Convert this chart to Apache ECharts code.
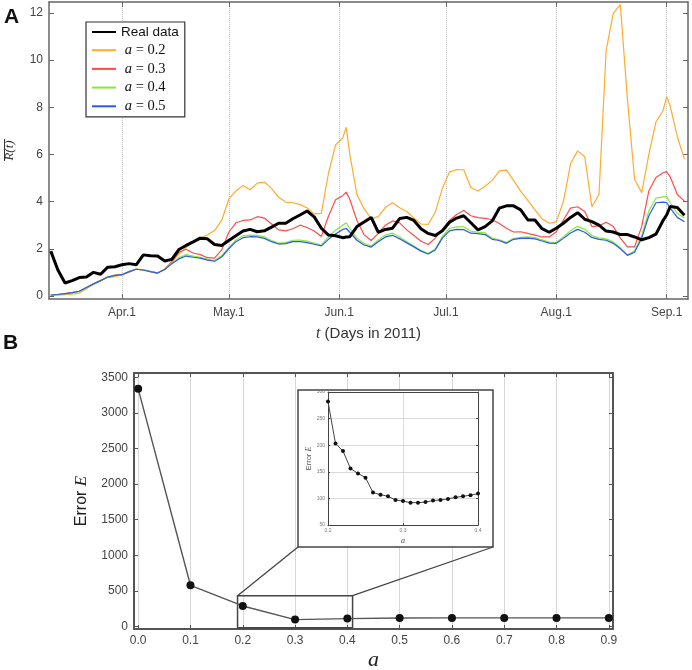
<!DOCTYPE html>
<html>
<head>
<meta charset="utf-8">
<script src="https://cdn.jsdelivr.net/npm/echarts@6/dist/echarts.min.js"></script>
<style>
  html, body { margin: 0; padding: 0; background: #fff; }
  #chart { width: 692px; height: 670px; }
</style>
</head>
<body>
<div id="chart"></div>
<script>
// ---- panel A: day of year 2011 (Jan 1 = 0) ----
const days = [70, 72, 74, 76, 78, 80, 82, 84, 86, 88,
  90, 92, 94, 96, 98, 100, 102, 104, 106, 108,
  110, 112, 114, 116, 118, 120, 122, 124, 126, 128,
  130, 132, 134, 136, 138, 140, 142, 144, 146, 148,
  150, 152, 153, 154, 156, 158, 160, 162, 164, 166, 168,
  170, 172, 174, 176, 178, 180, 182, 184, 186, 188,
  190, 192, 194, 196, 198, 200, 202, 204, 206, 208,
  210, 212, 214, 216, 218, 220, 222, 224, 226, 228,
  230, 232, 234, 236, 238, 240, 242, 243, 244, 246, 248];

const realData = [1.9, 1.1, 0.55, 0.65, 0.78, 0.8, 1.0, 0.92, 1.22, 1.24,
  1.32, 1.37, 1.32, 1.74, 1.7, 1.69, 1.48, 1.55, 1.97, 2.14,
  2.29, 2.45, 2.42, 2.18, 2.14, 2.35, 2.55, 2.75, 2.82, 2.72,
  2.76, 2.92, 3.08, 3.08, 3.27, 3.43, 3.6, 3.35, 2.87, 2.58,
  2.55, 2.47, 2.5, 2.51, 2.94, 3.13, 3.33, 2.7, 2.82, 2.87, 3.28,
  3.33, 3.2, 2.85, 2.65, 2.56, 2.76, 3.12, 3.3, 3.4, 3.1,
  2.8, 2.94, 3.18, 3.72, 3.82, 3.82, 3.65, 3.22, 3.22, 2.85,
  2.7, 2.87, 3.08, 3.33, 3.53, 3.25, 3.15, 3.0, 2.75, 2.71,
  2.6, 2.6, 2.5, 2.38, 2.47, 2.62, 3.2, 3.43, 3.79, 3.75, 3.42];

const a02 = [0.02, 0.03, 0.05, 0.08, 0.12, 0.3, 0.5, 0.65, 0.78, 0.82,
  0.9, 1.0, 1.14, 1.1, 1.03, 0.98, 1.12, 1.45, 1.78, 2.05,
  2.3, 2.45, 2.58, 2.77, 3.2, 4.1, 4.45, 4.68, 4.5, 4.78,
  4.83, 4.56, 4.18, 3.98, 3.95, 3.88, 3.73, 3.48, 3.5, 5.2,
  6.4, 6.7, 7.15, 6.0, 4.3, 3.7, 3.28, 3.36, 3.75, 3.95, 3.74,
  3.58, 3.3, 3.05, 3.03, 3.55, 4.55, 5.25, 5.36, 5.35, 4.6,
  4.45, 4.65, 4.9, 5.3, 5.33, 4.9, 4.44, 4.05, 3.65, 3.27,
  3.08, 3.14, 4.0, 5.6, 6.15, 5.9, 3.78, 4.3, 10.4, 11.98,
  12.35, 8.3, 4.95, 4.38, 6.0, 7.38, 7.85, 8.45, 8.05, 6.75, 5.8];

const a03 = [0.04, 0.06, 0.1, 0.14, 0.2, 0.36, 0.51, 0.65, 0.8, 0.87,
  0.9, 1.03, 1.13, 1.1, 1.03, 0.97, 1.12, 1.45, 1.85, 1.98,
  1.82, 1.75, 1.62, 1.6, 1.95, 2.7, 3.1, 3.2, 3.22, 3.36,
  3.3, 3.05, 2.8, 2.76, 2.85, 3.0, 2.9, 2.75, 2.52, 3.38,
  4.08, 4.25, 4.4, 4.1, 3.2, 2.6, 2.35, 2.65, 3.0, 3.18, 3.1,
  2.8, 2.56, 2.32, 2.18, 2.45, 2.8, 3.2, 3.45, 3.62, 3.4,
  3.32, 3.29, 3.23, 3.07, 2.87, 2.71, 2.72, 2.65, 2.58, 2.5,
  2.5, 2.72, 3.22, 3.72, 3.78, 3.58, 2.94, 2.97, 3.12, 2.95,
  2.45, 2.08, 2.08, 2.95, 4.45, 5.02, 5.22, 5.27, 5.05, 4.3, 4.02];

const a04 = [0.05, 0.06, 0.09, 0.13, 0.19, 0.35, 0.5, 0.65, 0.8, 0.87,
  0.91, 1.03, 1.14, 1.11, 1.04, 0.98, 1.14, 1.4, 1.62, 1.75,
  1.69, 1.64, 1.56, 1.5, 1.7, 2.05, 2.37, 2.55, 2.58, 2.57,
  2.5, 2.35, 2.24, 2.26, 2.36, 2.37, 2.32, 2.24, 2.15, 2.5,
  2.78, 3.0, 3.1, 2.85, 2.45, 2.22, 2.12, 2.37, 2.58, 2.66, 2.5,
  2.3, 2.12, 1.93, 1.8, 1.99, 2.52, 2.86, 2.93, 2.93, 2.75,
  2.7, 2.67, 2.45, 2.38, 2.27, 2.43, 2.48, 2.5, 2.47, 2.38,
  2.28, 2.27, 2.5, 2.77, 2.95, 2.82, 2.56, 2.46, 2.42, 2.29,
  2.04, 1.74, 1.9, 2.55, 3.6, 4.15, 4.2, 4.21, 3.95, 3.5, 3.3];

const a05 = [0.04, 0.06, 0.1, 0.14, 0.2, 0.36, 0.51, 0.65, 0.8, 0.87,
  0.9, 1.03, 1.13, 1.1, 1.03, 0.97, 1.12, 1.36, 1.57, 1.69,
  1.64, 1.6, 1.52, 1.47, 1.65, 2.0, 2.3, 2.47, 2.51, 2.5,
  2.44, 2.3, 2.2, 2.22, 2.3, 2.3, 2.26, 2.19, 2.12, 2.4,
  2.63, 2.82, 2.86, 2.7, 2.36, 2.16, 2.07, 2.3, 2.5, 2.57, 2.42,
  2.25, 2.08, 1.9, 1.78, 1.95, 2.45, 2.76, 2.82, 2.81, 2.66,
  2.64, 2.6, 2.4, 2.35, 2.23, 2.4, 2.44, 2.45, 2.42, 2.33,
  2.24, 2.23, 2.44, 2.67, 2.82, 2.7, 2.48, 2.4, 2.36, 2.23,
  2.0, 1.72, 1.85, 2.45, 3.4, 3.95, 3.98, 3.96, 3.72, 3.33, 3.14];

const monthDays = [90, 120, 151, 181, 212, 243];
const monthLabels = ['Apr.1', 'May.1', 'Jun.1', 'Jul.1', 'Aug.1', 'Sep.1'];
const rTicks = [0, 2, 4, 6, 8, 10, 12];

// ---- panel B ----
const aValues = [0.0, 0.1, 0.2, 0.3, 0.4, 0.5, 0.6, 0.7, 0.8, 0.9];
const errorE = [3340, 577, 286, 94, 108, 117, 118, 118, 118, 118];
const errTicks = [0, 500, 1000, 1500, 2000, 2500, 3000, 3500];

const insetA = [0.20, 0.21, 0.22, 0.23, 0.24, 0.25, 0.26, 0.27, 0.28, 0.29, 0.30,
  0.31, 0.32, 0.33, 0.34, 0.35, 0.36, 0.37, 0.38, 0.39, 0.40];
const insetE = [282, 203, 189, 156, 147, 139, 111, 107, 104, 97, 95,
  92, 92, 93, 96, 97, 99, 102, 104, 106, 109];
const insetTicksX = [0.2, 0.3, 0.4];
const insetTicksY = [50, 100, 150, 200, 250, 300];

// zoom box drawn on the main error plot: [a0, E0, a1, E1]
const zoomBox = [0.19, -20, 0.41, 430];

const sans = 'Liberation Sans, Arial, sans-serif';
const serif = 'Liberation Serif, Times New Roman, serif';

function pairs(xs, ys) {
  return xs.map(function (x, i) { return [x, ys[i]]; });
}
function plain(v) { return String(v); }

const frameA = { show: true, onZero: false, lineStyle: { color: '#666', width: 1.5 } };
const frameB = { show: true, onZero: false, lineStyle: { color: '#555', width: 2 } };
const frameI = { show: true, onZero: false, lineStyle: { color: '#444', width: 1 } };

const chart = echarts.init(document.getElementById('chart'));

const option = {
  animation: false,
  backgroundColor: '#fff',
  grid: [
    { left: 49, top: 2, width: 639, height: 297, outerBoundsMode: 'none', containLabel: false },
    { left: 134, top: 373, width: 479, height: 256, outerBoundsMode: 'none', containLabel: false },
    { left: 328, top: 392, width: 150, height: 133, z: 5, outerBoundsMode: 'none', containLabel: false }
  ],
  legend: {
    data: ['Real data', 'a = 0.2', 'a = 0.3', 'a = 0.4', 'a = 0.5'],
    orient: 'vertical',
    left: 86,
    top: 22,
    padding: [3, 6, 3, 5],
    itemGap: 3.7,
    itemWidth: 24,
    itemHeight: 12,
    selectedMode: false,
    borderColor: '#333',
    borderWidth: 1.2,
    backgroundColor: '#fff',
    itemStyle: { opacity: 0 },
    textStyle: {
      fontSize: 13.5,
      color: '#111',
      fontFamily: sans,
      rich: {
        i: { fontFamily: serif, fontStyle: 'italic', fontSize: 14.5, color: '#111' },
        s: { fontFamily: serif, fontSize: 14.5, color: '#111' }
      }
    },
    formatter: function (name) {
      if (name === 'Real data') return name;
      return ' {i|a}{s| = ' + name.split('= ')[1] + '}';
    }
  },
  xAxis: [
    {
      gridIndex: 0, type: 'value', min: 69.5, max: 249, position: 'bottom',
      axisLine: frameA,
      axisTick: { customValues: monthDays, inside: true, length: 5, lineStyle: { color: '#666' } },
      axisLabel: {
        customValues: monthDays, color: '#444', fontSize: 12, fontFamily: sans, margin: 8,
        formatter: function (v) { return monthLabels[monthDays.indexOf(v)]; }
      },
      splitLine: { show: true, lineStyle: { color: '#c4c4c4', type: 'dotted', width: 1 } },
      name: '{i|t} (Days in 2011)',
      nameLocation: 'middle',
      nameGap: 27,
      nameTextStyle: {
        fontSize: 15, color: '#333', fontFamily: sans,
        rich: { i: { fontFamily: serif, fontStyle: 'italic', fontSize: 16, color: '#333' } }
      }
    },
    {
      gridIndex: 0, type: 'value', min: 69.5, max: 249, position: 'top',
      axisLine: frameA,
      axisTick: { customValues: monthDays, inside: true, length: 5, lineStyle: { color: '#666' } },
      axisLabel: { show: false },
      splitLine: { show: false }
    },
    {
      gridIndex: 1, type: 'value', min: -0.008, max: 0.908, position: 'bottom',
      axisLine: frameB,
      axisTick: { customValues: aValues, inside: true, length: 4, lineStyle: { color: '#555' } },
      axisLabel: {
        customValues: aValues, color: '#444', fontSize: 12, fontFamily: sans, margin: 6,
        formatter: function (v) { return v.toFixed(1); }
      },
      splitLine: { show: true, lineStyle: { color: '#d6d6d6', width: 1 } },
      name: 'a',
      nameLocation: 'middle',
      nameGap: 20,
      nameTextStyle: { fontFamily: serif, fontStyle: 'italic', fontSize: 22, color: '#222' }
    },
    {
      gridIndex: 1, type: 'value', min: -0.008, max: 0.908, position: 'top',
      axisLine: frameB,
      axisTick: { customValues: aValues, inside: true, length: 4, lineStyle: { color: '#555' } },
      axisLabel: { show: false },
      splitLine: { show: false }
    },
    {
      gridIndex: 2, type: 'value', min: 0.2, max: 0.4, position: 'bottom', z: 5,
      axisLine: frameI,
      axisTick: { customValues: insetTicksX, inside: true, length: 2, lineStyle: { color: '#444' } },
      axisLabel: {
        customValues: insetTicksX, color: '#777', fontSize: 5, fontFamily: sans, margin: 3,
        formatter: function (v) { return v.toFixed(1); }
      },
      splitLine: { show: true, lineStyle: { color: '#d0d0d0', width: 0.8 } },
      name: 'a',
      nameLocation: 'middle',
      nameGap: 12,
      nameTextStyle: { fontFamily: serif, fontStyle: 'italic', fontSize: 8, color: '#444' }
    },
    {
      gridIndex: 2, type: 'value', min: 0.2, max: 0.4, position: 'top', z: 5,
      axisLine: frameI,
      axisTick: { show: false },
      axisLabel: { show: false },
      splitLine: { show: false }
    }
  ],
  yAxis: [
    {
      gridIndex: 0, type: 'value', min: -0.13, max: 12.46, position: 'left',
      axisLine: frameA,
      axisTick: { customValues: rTicks, inside: true, length: 5, lineStyle: { color: '#666' } },
      axisLabel: { customValues: rTicks, color: '#444', fontSize: 12, fontFamily: sans, margin: 6 },
      splitLine: { show: false },
      name: 'R(t)',
      nameLocation: 'middle',
      nameRotate: 90,
      nameGap: 33,
      nameTextStyle: { fontFamily: serif, fontStyle: 'italic', fontSize: 13, color: '#333' }
    },
    {
      gridIndex: 0, type: 'value', min: -0.13, max: 12.46, position: 'right',
      axisLine: frameA,
      axisTick: { customValues: rTicks, inside: true, length: 5, lineStyle: { color: '#666' } },
      axisLabel: { show: false },
      splitLine: { show: false }
    },
    {
      gridIndex: 1, type: 'value', min: -38, max: 3563, position: 'left',
      axisLine: frameB,
      axisTick: { customValues: errTicks, inside: true, length: 4, lineStyle: { color: '#555' } },
      axisLabel: { customValues: errTicks, color: '#444', fontSize: 12, fontFamily: sans, margin: 6, formatter: plain },
      splitLine: { show: false },
      name: 'Error {e|E}',
      nameLocation: 'middle',
      nameRotate: 90,
      nameGap: 43,
      nameTextStyle: {
        fontSize: 16, color: '#222', fontFamily: sans,
        rich: { e: { fontFamily: serif, fontStyle: 'italic', fontSize: 17, color: '#222' } }
      }
    },
    {
      gridIndex: 1, type: 'value', min: -38, max: 3563, position: 'right',
      axisLine: frameB,
      axisTick: { customValues: errTicks, inside: true, length: 4, lineStyle: { color: '#555' } },
      axisLabel: { show: false },
      splitLine: { show: false }
    },
    {
      gridIndex: 2, type: 'value', min: 50, max: 300, position: 'left', z: 5,
      axisLine: frameI,
      axisTick: { customValues: insetTicksY, inside: true, length: 2, lineStyle: { color: '#444' } },
      axisLabel: { customValues: insetTicksY, color: '#777', fontSize: 5, fontFamily: sans, margin: 3, formatter: plain },
      splitLine: { show: true, lineStyle: { color: '#d0d0d0', width: 0.8 } },
      name: 'Error {e|E}',
      nameLocation: 'middle',
      nameRotate: 90,
      nameGap: 15,
      nameTextStyle: {
        fontSize: 7.5, color: '#555', fontFamily: sans,
        rich: { e: { fontFamily: serif, fontStyle: 'italic', fontSize: 8, color: '#555' } }
      }
    },
    {
      gridIndex: 2, type: 'value', min: 50, max: 300, position: 'right', z: 5,
      axisLine: frameI,
      axisTick: { customValues: insetTicksY, inside: true, length: 2, lineStyle: { color: '#444' } },
      axisLabel: { show: false },
      splitLine: { show: false }
    }
  ],
  series: [
    {
      name: 'a = 0.2', type: 'line', xAxisIndex: 0, yAxisIndex: 0, symbol: 'none',
      data: pairs(days, a02), color: '#ffab2e', lineStyle: { color: '#ffab2e', width: 1.2 }
    },
    {
      name: 'a = 0.3', type: 'line', xAxisIndex: 0, yAxisIndex: 0, symbol: 'none',
      data: pairs(days, a03), color: '#ff4b4b', lineStyle: { color: '#ff4b4b', width: 1.2 }
    },
    {
      name: 'a = 0.4', type: 'line', xAxisIndex: 0, yAxisIndex: 0, symbol: 'none',
      data: pairs(days, a04), color: '#86e83c', lineStyle: { color: '#86e83c', width: 1.2 }
    },
    {
      name: 'a = 0.5', type: 'line', xAxisIndex: 0, yAxisIndex: 0, symbol: 'none',
      data: pairs(days, a05), color: '#2a5ce8', lineStyle: { color: '#2a5ce8', width: 1.2 }
    },
    {
      name: 'Real data', type: 'line', xAxisIndex: 0, yAxisIndex: 0, symbol: 'none', z: 3,
      data: pairs(days, realData), color: '#000', lineStyle: { color: '#000', width: 3 }
    },
    {
      name: 'error', type: 'line', xAxisIndex: 2, yAxisIndex: 2,
      data: pairs(aValues, errorE),
      symbol: 'circle', symbolSize: 8,
      itemStyle: { color: '#111' },
      lineStyle: { color: '#555', width: 1.4 },
      markArea: {
        silent: true,
        itemStyle: { color: 'rgba(0,0,0,0)', borderColor: '#444', borderWidth: 1.5 },
        data: [[{ coord: [zoomBox[0], zoomBox[1]] }, { coord: [zoomBox[2], zoomBox[3]] }]]
      }
    },
    {
      name: 'error zoom', type: 'line', xAxisIndex: 4, yAxisIndex: 4, z: 6,
      data: pairs(insetA, insetE),
      symbol: 'circle', symbolSize: 4,
      itemStyle: { color: '#111' },
      lineStyle: { color: '#444', width: 1 }
    }
  ]
};

chart.setOption(option);

// inset frame and the lines joining it to the zoom box
const inset = { x: 298, y: 390, w: 195, h: 157 };
const pLeft = chart.convertToPixel({ gridIndex: 1 }, [zoomBox[0], zoomBox[3]]);
const pRight = chart.convertToPixel({ gridIndex: 1 }, [zoomBox[2], zoomBox[3]]);

chart.setOption({
  graphic: [
    {
      type: 'rect', z: 3,
      shape: { x: inset.x, y: inset.y, width: inset.w, height: inset.h },
      style: { fill: '#fff', stroke: '#444', lineWidth: 1.5 }
    },
    {
      type: 'line', z: 3,
      shape: { x1: pLeft[0], y1: pLeft[1], x2: inset.x, y2: inset.y + inset.h },
      style: { stroke: '#444', lineWidth: 1.3 }
    },
    {
      type: 'line', z: 3,
      shape: { x1: pRight[0], y1: pRight[1], x2: inset.x + inset.w, y2: inset.y + inset.h },
      style: { stroke: '#444', lineWidth: 1.3 }
    },
    {
      // overline of the rotated R(t) axis name
      type: 'line', z: 3,
      shape: { x1: 4.5, y1: 139, x2: 4.5, y2: 161 },
      style: { stroke: '#333', lineWidth: 1 }
    },
    {
      type: 'text', left: 4, top: 7, z: 10,
      style: { text: 'A', font: 'bold 21px ' + sans, fill: '#111' }
    },
    {
      type: 'text', left: 3, top: 333, z: 10,
      style: { text: 'B', font: 'bold 21px ' + sans, fill: '#111' }
    }
  ]
});
</script>
</body>
</html>
